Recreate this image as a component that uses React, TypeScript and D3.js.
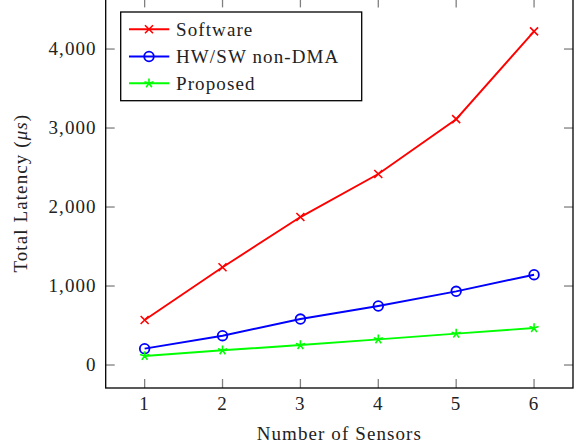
import React, { useRef, useEffect } from "react";
import * as d3 from "d3";

const sensors = [1, 2, 3, 4, 5, 6];
const software = [570, 1237, 1873, 2418, 3112, 4224];
const hwsw = [207, 371, 582, 747, 933, 1143];
const proposed = [114, 186, 253, 325, 397, 468];
const yTicks = [0, 1000, 2000, 3000, 4000];
const seriesNames = ["Software", "HW/SW non-DMA", "Proposed"];
const seriesColors = ["#ff0000", "#0000ff", "#00ff00"];
const seriesMarks = ["x", "o", "star"];

export default function App() {
  const ref = useRef(null);

  useEffect(() => {
    d3.select(ref.current).selectAll("*").remove();
    const W = 577, H = 448;
    const font = "'Liberation Serif', 'Times New Roman', 'DejaVu Serif', serif";
    const fs = 19;
    const ls = "1.1px";

    const svg = d3.select(ref.current)
      .append("svg")
      .attr("width", W)
      .attr("height", H)
      .style("position", "absolute")
      .style("left", 0)
      .style("top", 0)
      .style("background", "#fff");

    const txt = (sel) => sel
      .attr("font-family", font)
      .attr("font-size", fs)
      .attr("letter-spacing", ls)
      .attr("fill", "#222");

    const left = 105.7, right = 573, top = -1.6, bottom = 388;
    const x = d3.scaleLinear().domain([0.5, 6.5]).range([left, right]);
    const y = d3.scaleLinear().domain([-291, 4641]).range([bottom, top]);

    // ticks (inward, mirrored)
    const tickLen = 9;
    const tickColor = "#808080";
    sensors.forEach(s => {
      svg.append("line").attr("x1", x(s)).attr("x2", x(s))
        .attr("y1", bottom).attr("y2", bottom - tickLen)
        .attr("stroke", tickColor).attr("stroke-width", 1.3);
      svg.append("line").attr("x1", x(s)).attr("x2", x(s))
        .attr("y1", top).attr("y2", top + tickLen)
        .attr("stroke", tickColor).attr("stroke-width", 1.3);
      txt(svg.append("text"))
        .attr("x", x(s)).attr("y", 410)
        .attr("text-anchor", "middle")
        .text(s);
    });
    yTicks.forEach(t => {
      svg.append("line").attr("x1", left).attr("x2", left + tickLen)
        .attr("y1", y(t)).attr("y2", y(t))
        .attr("stroke", tickColor).attr("stroke-width", 1.3);
      svg.append("line").attr("x1", right).attr("x2", right - tickLen)
        .attr("y1", y(t)).attr("y2", y(t))
        .attr("stroke", tickColor).attr("stroke-width", 1.3);
      txt(svg.append("text"))
        .attr("x", left - 9).attr("y", y(t))
        .attr("dy", "0.33em")
        .attr("text-anchor", "end")
        .text(d3.format(",")(t));
    });

    // frame
    svg.append("rect")
      .attr("x", left).attr("y", top)
      .attr("width", right - left).attr("height", bottom - top)
      .attr("fill", "none").attr("stroke", "#000").attr("stroke-width", 1.3);

    // axis labels
    txt(svg.append("text"))
      .attr("x", (left + right) / 2).attr("y", 440)
      .attr("text-anchor", "middle")
      .text("Number of Sensors");

    const yl = txt(svg.append("text"))
      .attr("transform", `translate(27,${(top + bottom) / 2}) rotate(-90)`)
      .attr("text-anchor", "middle");
    yl.append("tspan").text("Total Latency (");
    yl.append("tspan").attr("font-style", "italic").text("μs");
    yl.append("tspan").text(")");

    const drawMark = (g, kind, cx, cy, color) => {
      if (kind === "x") {
        const r = 4;
        g.append("path")
          .attr("d", `M${cx - r},${cy - r}L${cx + r},${cy + r}M${cx - r},${cy + r}L${cx + r},${cy - r}`)
          .attr("stroke", color).attr("stroke-width", 1.6).attr("fill", "none");
      } else if (kind === "o") {
        g.append("circle").attr("cx", cx).attr("cy", cy).attr("r", 4.8)
          .attr("stroke", color).attr("stroke-width", 1.8).attr("fill", "none");
      } else {
        const r = 4.8;
        let d = "";
        for (let k = 0; k < 5; k++) {
          const a = -Math.PI / 2 + k * 2 * Math.PI / 5;
          d += `M${cx},${cy}L${cx + r * Math.cos(a)},${cy + r * Math.sin(a)}`;
        }
        g.append("path").attr("d", d)
          .attr("stroke", color).attr("stroke-width", 1.6).attr("fill", "none");
      }
    };

    const allSeries = [software, hwsw, proposed];
    const line = d3.line().x((d, i) => x(sensors[i])).y(d => y(d));
    allSeries.forEach((vals, si) => {
      const g = svg.append("g");
      g.append("path")
        .attr("d", line(vals))
        .attr("fill", "none")
        .attr("stroke", seriesColors[si])
        .attr("stroke-width", 1.9);
      vals.forEach((v, i) => drawMark(g, seriesMarks[si], x(sensors[i]), y(v), seriesColors[si]));
    });

    // legend
    const lg = svg.append("g");
    lg.append("rect")
      .attr("x", 120.7).attr("y", 12)
      .attr("width", 241).attr("height", 88.7)
      .attr("fill", "#fff").attr("stroke", "#000").attr("stroke-width", 1.3);
    const rowY = [29.3, 56.5, 83.3];
    seriesNames.forEach((name, i) => {
      lg.append("line")
        .attr("x1", 129).attr("x2", 169.3)
        .attr("y1", rowY[i]).attr("y2", rowY[i])
        .attr("stroke", seriesColors[i]).attr("stroke-width", 1.9);
      drawMark(lg, seriesMarks[i], 149, rowY[i], seriesColors[i]);
      txt(lg.append("text"))
        .attr("x", 176).attr("y", rowY[i])
        .attr("dy", "0.33em")
        .text(name);
    });
  }, []);

  return <div ref={ref}></div>;
}
